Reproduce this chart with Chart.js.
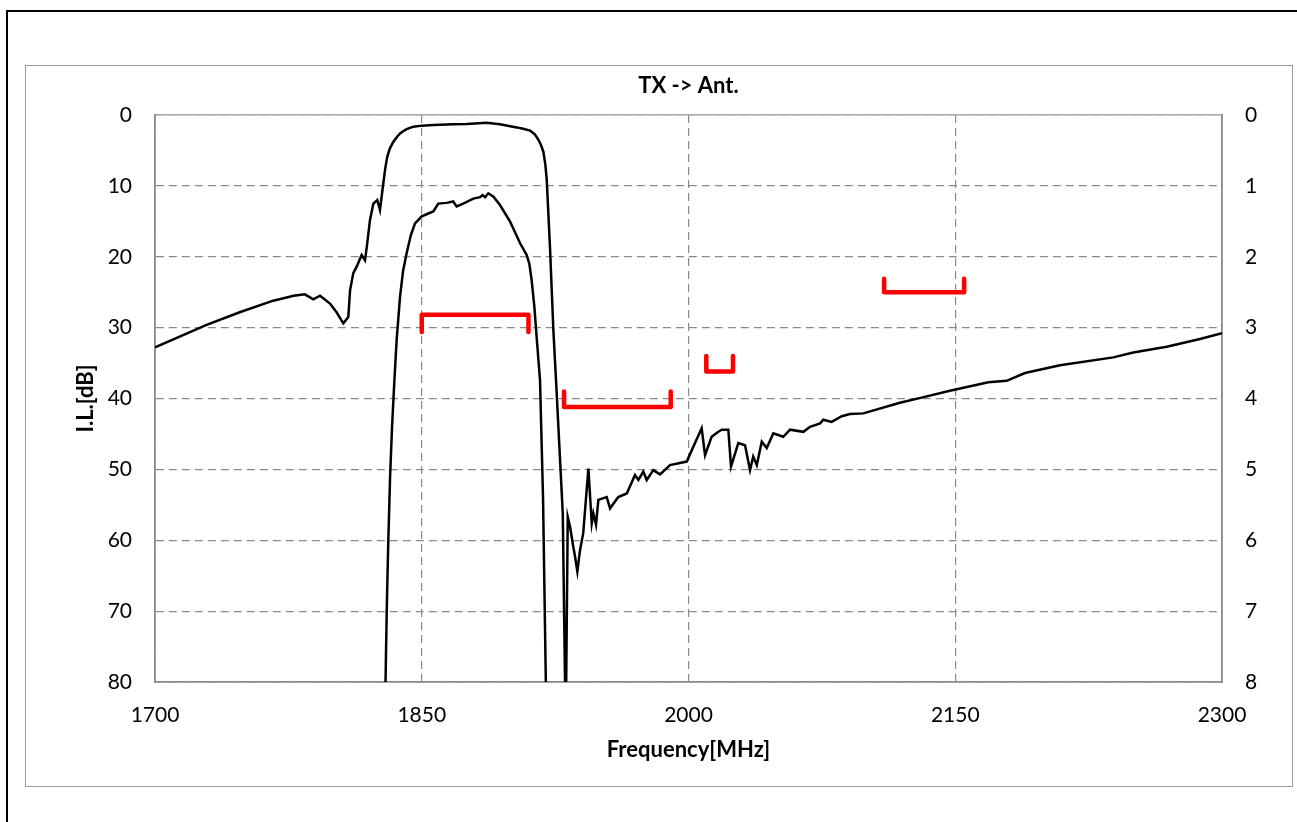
<!DOCTYPE html>
<html>
<head>
<meta charset="utf-8">
<title>TX -> Ant.</title>
<script src="https://cdn.jsdelivr.net/npm/chart.js@4.4.1/dist/chart.umd.min.js"></script>
<style>
  html, body { margin: 0; padding: 0; background: #fff; overflow: hidden; }
  #frame { position: absolute; left: 6px; top: 10px; width: 1400px; height: 1000px; border: 2px solid #000; }
  #box { position: absolute; left: 25px; top: 65px; width: 1266px; height: 720px; border: 1.5px solid #9a9a9a; }
  #chart { position: absolute; left: 0; top: 0; }
</style>
</head>
<body>
<div id="frame"></div>
<div id="box"></div>
<canvas id="chart" width="1297" height="822"></canvas>
<script>
// frequency ticks (MHz) and axis ranges
const freqTicks = [1700, 1850, 2000, 2150, 2300];
const lossTicks = [0, 10, 20, 30, 40, 50, 60, 70, 80];
const passTicks = [0, 1, 2, 3, 4, 5, 6, 7, 8];

// wideband sweep, left axis (dB)
const wideFreq = [1700, 1729, 1748, 1766.5, 1778, 1784.3, 1789, 1792.8, 1798.4, 1802, 1805.9, 1808.7, 1809.7,
  1811.5, 1813.4, 1816.2, 1818.1, 1819.1, 1820.9, 1822.8, 1825, 1826.5, 1828.4, 1829.5, 1830.6, 1832.1, 1834,
  1836, 1837.8, 1839.5, 1841.5, 1845.3, 1850, 1856.5, 1867.7, 1875.3, 1886.5, 1894, 1903.4, 1907, 1910.9, 1913.5,
  1915.6, 1917, 1918.4, 1919.5, 1920.3, 1921.2,
  1922.1, 1924, 1925.5, 1929.3, 1930.6, 1931.0, 1932.1, 1933.4, 1934.3, 1935.2, 1936.2, 1937.5, 1939, 1940.8,
  1943.7, 1945.6, 1946.5, 1948, 1949.3, 1954, 1955.9, 1960.5, 1965.3, 1969.9, 1971.8, 1974.6, 1976.5, 1980.2,
  1984, 1989.6, 1999, 2002.7, 2007.4, 2009.3, 2013, 2016.8, 2018.7, 2022.4, 2023.9, 2028, 2031.8, 2034.6,
  2036.4, 2038.4, 2041.2, 2044, 2047.7, 2053.3, 2057.1, 2064.6, 2068.3, 2074, 2075.8, 2080.5, 2086.2, 2090.8,
  2098.3, 2118.9, 2134, 2147, 2168.6, 2178.9, 2189.2, 2208.9, 2238.9, 2250.1, 2268.9, 2287.6, 2300];
const wideLoss = [32.8, 29.6, 27.8, 26.2, 25.5, 25.3, 26.0, 25.5, 26.6, 27.8, 29.4, 28.5, 24.7,
  22.3, 21.4, 19.75, 20.5, 18.6, 14.8, 12.5, 12.0, 13.4, 9.6, 7.5, 5.9, 4.7, 3.8,
  3.1, 2.6, 2.3, 2.0, 1.65, 1.5, 1.4, 1.3, 1.27, 1.08, 1.3, 1.75, 1.95, 2.2, 2.7,
  3.5, 4.2, 5.2, 7.0, 9.2, 13.9,
  18.6, 30.3, 37.4, 56.2, 80.5, 86, 56.7, 58.1, 59.5, 60.9, 62.3, 64.4, 61.4, 59.0,
  49.9, 57.6, 56.2, 57.8, 54.3, 53.9, 55.5, 53.9, 53.4, 50.8, 51.5, 50.3, 51.5, 50.1,
  50.7, 49.4, 48.9, 46.8, 44.2, 48.0, 45.4, 44.7, 44.4, 44.4, 49.6, 46.3, 46.6, 50.1,
  48.2, 49.4, 46.1, 47.0, 44.9, 45.4, 44.4, 44.7, 44.0, 43.5, 43.0, 43.3, 42.5, 42.2,
  42.1, 40.6, 39.7, 38.9, 37.7, 37.5, 36.4, 35.3, 34.2, 33.5, 32.7, 31.6, 30.8];

// passband detail, right axis (dB)
const passFreq = [1829.5, 1830.3, 1831.2, 1832.2, 1833.3, 1834.6, 1835.9, 1837.8, 1839.5, 1841.5, 1843.8, 1846.2,
  1850, 1853.7, 1856.5, 1859.3, 1864, 1867.7, 1869.6, 1873.3, 1879, 1882.8, 1884.2, 1885.6, 1887.4, 1890.2,
  1894, 1899.6, 1905.3, 1909, 1910.5, 1911.8, 1913.3, 1914.6, 1916.5, 1918.2, 1919.9];
const passLoss = [8.2, 7.0, 6.0, 5.1, 4.4, 3.75, 3.17, 2.56, 2.2, 1.95, 1.7, 1.53,
  1.43, 1.39, 1.36, 1.25, 1.24, 1.22, 1.29, 1.25, 1.18, 1.16, 1.13, 1.16, 1.105, 1.15,
  1.27, 1.5, 1.81, 1.975, 2.1, 2.33, 2.7, 3.13, 3.74, 5.4, 8.2];

// spec masks (left axis)
const maskTxFreq = [1850, 1850, 1910, 1910];
const maskTxLoss = [30.6, 28.2, 28.2, 30.6];
const maskRxFreq = [1930, 1930, 1990, 1990];
const maskRxLoss = [39.0, 41.2, 41.2, 39.0];
const maskMidFreq = [2010, 2010, 2025, 2025];
const maskMidLoss = [34.0, 36.2, 36.2, 34.0];
const maskHiFreq = [2110, 2110, 2155, 2155];
const maskHiLoss = [23.1, 25.0, 25.0, 23.1];

const FONT = "Lato, 'Open Sans', sans-serif";
const GRID = "#8a8a8a";

function points(xs, ys) {
  return xs.map((x, i) => ({ x, y: ys[i] }));
}

function curve(xs, ys, axis) {
  return {
    data: points(xs, ys),
    yAxisID: axis,
    borderColor: "#000",
    borderWidth: 2.5,
    pointRadius: 0,
    tension: 0,
    clip: 0,
  };
}

function mask(xs, ys) {
  return {
    data: points(xs, ys),
    yAxisID: "y",
    borderColor: "#ff0000",
    borderWidth: 4.5,
    borderCapStyle: "round",
    borderJoinStyle: "round",
    pointRadius: 0,
    tension: 0,
  };
}

function fixTicks(list) {
  return (scale) => {
    scale.ticks = list.map((v) => ({ value: v }));
  };
}

const tickFont = { family: FONT, size: 21 };
const titleFont = { family: FONT, size: 22, weight: "bold" };

new Chart(document.getElementById("chart"), {
  type: "line",
  data: {
    datasets: [
      curve(wideFreq, wideLoss, "y"),
      curve(passFreq, passLoss, "y2"),
      mask(maskTxFreq, maskTxLoss),
      mask(maskRxFreq, maskRxLoss),
      mask(maskMidFreq, maskMidLoss),
      mask(maskHiFreq, maskHiLoss),
    ],
  },
  options: {
    responsive: false,
    animation: false,
    layout: { padding: 0 },
    plugins: { legend: { display: false }, tooltip: { enabled: false } },
    scales: {
      x: {
        type: "linear",
        position: "bottom",
        min: 1700,
        max: 2300,
        afterBuildTicks: fixTicks(freqTicks),
        afterFit: (s) => { s.height = 140; },
        ticks: { font: tickFont, color: "#000", padding: 21, maxRotation: 0, callback: (v) => String(v) },
        grid: { color: GRID, lineWidth: 1.2, drawTicks: false },
        border: { color: GRID, width: 1.8, dash: [8, 5] },
        title: { display: true, text: "Frequency[MHz]", font: titleFont, color: "#000", padding: { top: 0, bottom: 59 } },
      },
      top: {
        type: "linear",
        position: "top",
        min: 1700,
        max: 2300,
        afterFit: (s) => { s.height = 115; },
        ticks: { display: false },
        grid: { display: false },
        border: { color: "#a8a8a8", width: 1.5 },
        title: { display: true, text: "TX -> Ant.", font: titleFont, color: "#000", padding: { top: 73, bottom: 0 } },
      },
      y: {
        type: "linear",
        position: "left",
        reverse: true,
        min: 0,
        max: 80,
        afterBuildTicks: fixTicks(lossTicks),
        afterFit: (s) => { s.width = 155; },
        ticks: { font: tickFont, color: "#000", padding: 23 },
        grid: { color: GRID, lineWidth: 1.2, drawTicks: false },
        border: { color: GRID, width: 1.8, dash: [8, 5] },
        title: { display: true, text: "I.L.[dB]", font: titleFont, color: "#000", padding: { top: 73, bottom: 0 } },
      },
      y2: {
        type: "linear",
        position: "right",
        reverse: true,
        min: 0,
        max: 8,
        afterBuildTicks: fixTicks(passTicks),
        afterFit: (s) => { s.width = 75; },
        ticks: { font: tickFont, color: "#000", padding: 23 },
        grid: { drawOnChartArea: false, drawTicks: false },
        border: { color: GRID, width: 1.8 },
      },
    },
  },
});
</script>
</body>
</html>
